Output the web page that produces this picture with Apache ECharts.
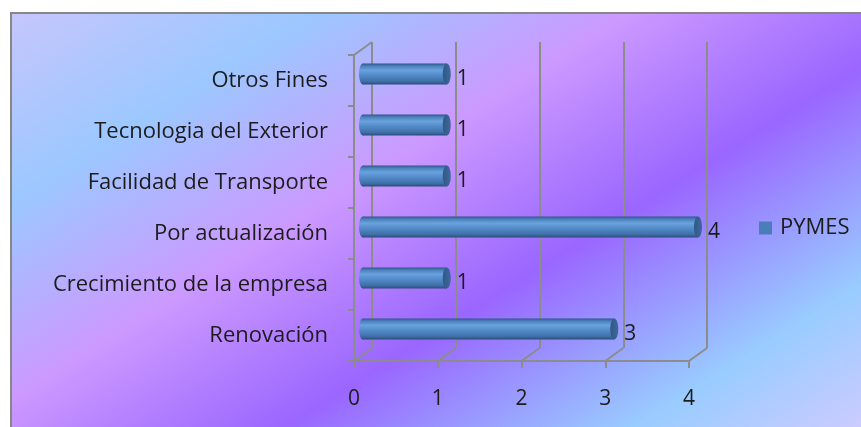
<!DOCTYPE html>
<html>
<head>
<meta charset="utf-8">
<script src="https://cdn.jsdelivr.net/npm/echarts@6/dist/echarts.min.js"></script>
<style>
  html, body { margin: 0; padding: 0; background: #ffffff; }
  #chart { width: 861px; height: 427px; }
</style>
</head>
<body>
<div id="chart"></div>
<script>
// Reasons for acquiring technology (PYMES)
const categories = [
  'Renovación',
  'Crecimiento de la empresa',
  'Por actualización',
  'Facilidad de Transporte',
  'Tecnologia del Exterior',
  'Otros Fines'
];
const pymes = [3, 1, 4, 1, 1, 1];
const xTicks = [0, 1, 2, 3, 4];
const seriesName = 'PYMES';

// Pseudo-3D layout: front plane, back wall, and bars sitting halfway between
const FRONT = { left: 354, top: 55, width: 335, height: 306 };
const DEPTH = [18, -13];
const BACK = { left: FRONT.left + DEPTH[0], top: FRONT.top + DEPTH[1], width: FRONT.width, height: FRONT.height };
const MID = { left: FRONT.left + DEPTH[0] / 2, top: FRONT.top + DEPTH[1] / 2, width: FRONT.width, height: FRONT.height };

const AXIS_GRAY = '#8c8c8c';
const FONT = '"Open Sans", "Noto Sans", sans-serif';
const TEXT = '#1c1c1c';
const LABEL_SIZE = 22;
const DIGIT_SIZE = 21;

const chart = echarts.init(document.getElementById('chart'), null, { renderer: 'canvas' });

function gridOf(g) {
  return { left: g.left, top: g.top, width: g.width, height: g.height, containLabel: false };
}

// Cylinder body shading: dark rim, light highlight, darker underside
function bodyFill() {
  return new echarts.graphic.LinearGradient(0, 0, 0, 1, [
    { offset: 0, color: '#2e5685' },
    { offset: 0.12, color: '#4a80bd' },
    { offset: 0.32, color: '#6aa2dc' },
    { offset: 0.55, color: '#548ccb' },
    { offset: 0.85, color: '#3f70a8' },
    { offset: 1, color: '#2a4c78' }
  ]);
}
function capFill() {
  return new echarts.graphic.LinearGradient(0, 0, 1, 0, [
    { offset: 0, color: '#2f5787' },
    { offset: 1, color: '#40699b' }
  ]);
}

function renderBar(params, api) {
  const ci = api.value(0);
  const v = api.value(1);
  const s = api.coord([0, ci]);
  const e = api.coord([v, ci]);
  const h = 21, rx = 4;
  return {
    type: 'group',
    children: [
      { type: 'ellipse', shape: { cx: s[0], cy: s[1], rx: rx, ry: h / 2 }, style: { fill: bodyFill() } },
      { type: 'rect', shape: { x: s[0], y: s[1] - h / 2, width: e[0] - s[0], height: h }, style: { fill: bodyFill() } },
      { type: 'ellipse', shape: { cx: e[0], cy: e[1], rx: rx, ry: h / 2 }, style: { fill: capFill() } },
      {
        type: 'text', x: e[0] + rx + 6, y: e[1] + 5,
        style: { text: String(v), fill: TEXT, font: DIGIT_SIZE + 'px ' + FONT, verticalAlign: 'middle', align: 'left' }
      }
    ]
  };
}

// Floor/wall edges joining the front plane to the back wall
function renderDepth(params, api) {
  const cs = params.coordSys;
  const p = api.coord([api.value(0), 0]);
  const bottom = cs.y + cs.height;
  const style = { stroke: AXIS_GRAY, lineWidth: 2 };
  const children = [
    { type: 'line', shape: { x1: p[0], y1: bottom, x2: p[0] + DEPTH[0], y2: bottom + DEPTH[1] }, style: style }
  ];
  if (params.dataIndex === 0) {
    children.push({ type: 'line', shape: { x1: cs.x, y1: cs.y, x2: cs.x + DEPTH[0], y2: cs.y + DEPTH[1] }, style: style });
  }
  return { type: 'group', children: children };
}

const hiddenValueAxis = (gi, split) => ({
  type: 'value', gridIndex: gi, min: 0, max: 4, interval: 1,
  axisLine: { show: false }, axisTick: { show: false }, axisLabel: { show: false },
  splitLine: { show: split, lineStyle: { color: AXIS_GRAY, width: 2 } }
});
const hiddenCatAxis = (gi) => ({
  type: 'category', gridIndex: gi, data: categories,
  axisLine: { show: false }, axisTick: { show: false }, axisLabel: { show: false }, splitLine: { show: false }
});

const option = {
  animation: false,
  backgroundColor: '#ffffff',
  graphic: [
    {
      type: 'rect', z: -10, silent: true,
      shape: { x: 11, y: 13, width: 860, height: 420 },
      style: {
        fill: {
          type: 'linear', global: true, x: 10, y: 13, x2: 435, y2: 693,
          colorStops: [
            { offset: 0, color: '#c6c6fc' },
            { offset: 0.2, color: '#9cc8ff' },
            { offset: 0.41, color: '#cc99ff' },
            { offset: 0.62, color: '#9a66ff' },
            { offset: 0.85, color: '#99ccff' },
            { offset: 1, color: '#cccbff' }
          ]
        },
        stroke: '#878787', lineWidth: 2
      }
    }
  ],
  legend: {
    data: [seriesName],
    left: 754, top: 212,
    icon: 'rect', itemWidth: 13, itemHeight: 13, itemGap: 8,
    textStyle: { fontFamily: FONT, fontSize: LABEL_SIZE, color: TEXT, padding: [0, 0, 0, 3] }
  },
  grid: [gridOf(FRONT), gridOf(BACK), gridOf(MID)],
  xAxis: [
    {
      type: 'value', gridIndex: 0, min: 0, max: 4, interval: 1,
      axisLine: { show: true, lineStyle: { color: AXIS_GRAY, width: 2 } },
      axisTick: { show: true, length: 7, lineStyle: { color: AXIS_GRAY, width: 2 } },
      axisLabel: { margin: 28, fontFamily: FONT, fontSize: DIGIT_SIZE, color: TEXT,
        formatter: (v) => xTicks.indexOf(v) >= 0 ? String(v) : '' },
      splitLine: { show: false }
    },
    hiddenValueAxis(1, true),
    hiddenValueAxis(2, false)
  ],
  yAxis: [
    {
      type: 'category', gridIndex: 0, data: categories,
      axisLine: { show: true, lineStyle: { color: AXIS_GRAY, width: 2 } },
      axisTick: { show: true, length: 6, lineStyle: { color: AXIS_GRAY, width: 2 } },
      axisLabel: { margin: 26, fontFamily: FONT, fontSize: LABEL_SIZE, color: TEXT },
      splitLine: { show: false }
    },
    hiddenCatAxis(1),
    hiddenCatAxis(2)
  ],
  series: [
    {
      type: 'custom', name: '__depth', xAxisIndex: 0, yAxisIndex: 0, silent: true,
      renderItem: renderDepth,
      data: xTicks.map((v) => [v]),
      encode: { x: 0 }, z: 1
    },
    {
      type: 'custom', name: seriesName, xAxisIndex: 2, yAxisIndex: 2,
      itemStyle: { color: '#4a7ebb' },
      renderItem: renderBar,
      data: pymes.map((v, i) => [i, v]),
      encode: { x: 1, y: 0 }, z: 3
    }
  ]
};

chart.setOption(option);
</script>
</body>
</html>
